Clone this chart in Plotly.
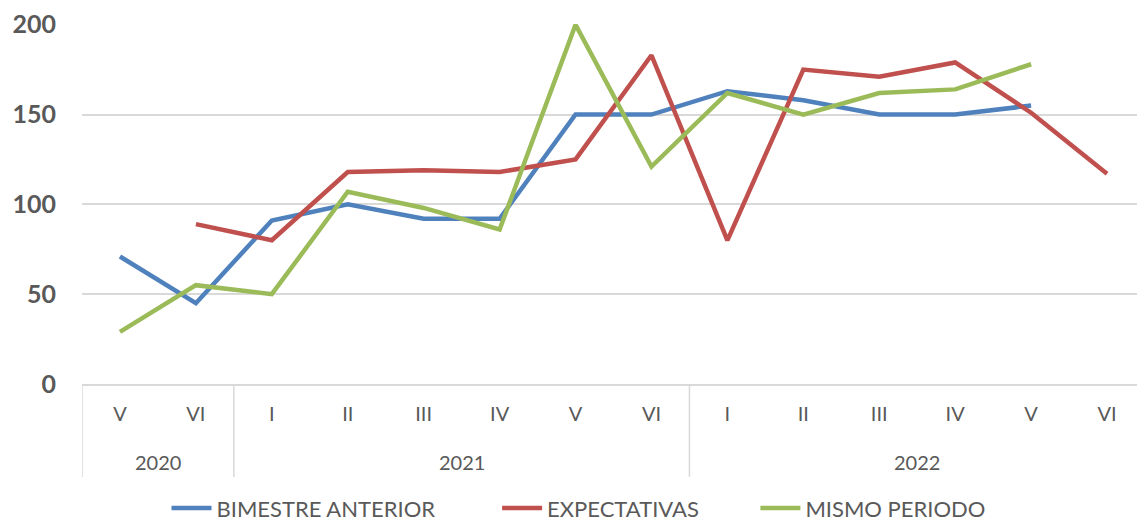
import plotly.graph_objects as go

years = ["2020", "2020"] + ["2021"] * 6 + ["2022"] * 6
bimestres = ["V", "VI", "I", "II", "III", "IV", "V", "VI", "I", "II", "III", "IV", "V", "VI"]

bimestre_anterior = [71, 45, 91, 100, 92, 92, 150, 150, 163, 158, 150, 150, 155, None]
expectativas = [None, 89, 80, 118, 119, 118, 125, 183, 80, 175, 171, 179, 151, 117]
mismo_periodo = [29, 55, 50, 107, 98, 86, 200, 121, 162, 150, 162, 164, 178, None]

series = [
    ("BIMESTRE ANTERIOR", bimestre_anterior, "#4F81BD", "legend", 0.0795),
    ("EXPECTATIVAS", expectativas, "#C0504D", "legend2", 0.3905),
    ("MISMO PERIODO", mismo_periodo, "#9BBB59", "legend3", 0.6335),
]

idx = list(range(len(bimestres)))

fig = go.Figure()
legend_layout = {}
for name, vals, color, leg, lx in series:
    fig.add_trace(go.Scatter(
        x=idx, y=vals, name=name, mode="lines", legend=leg,
        line=dict(color=color, width=4.5), connectgaps=False, cliponaxis=False,
    ))
    legend_layout[leg] = dict(orientation="h", x=lx, xanchor="left", y=-0.345, yanchor="middle",
                              font=dict(size=22, color="#595959"), itemwidth=40,
                              bgcolor="rgba(0,0,0,0)")

# year groups: labels centred under their bimesters, dividers at group boundaries
groups = []
for i, y in enumerate(years):
    if groups and groups[-1][0] == y:
        groups[-1][2] = i
    else:
        groups.append([y, i, i])

div_color = "#D9D9D9"
for yr, a, b in groups:
    fig.add_annotation(x=(a + b) / 2, y=-0.217, xref="x", yref="paper", text=yr,
                       showarrow=False, font=dict(size=20, color="#595959"),
                       xanchor="center", yanchor="middle")
    fig.add_shape(type="line", xref="x", yref="paper", x0=a - 0.5, x1=a - 0.5,
                  y0=0, y1=-0.258, line=dict(color=div_color, width=1.5))

fig.update_layout(
    width=1137, height=515,
    margin=dict(l=74, r=0, t=16, b=139, autoexpand=False),
    paper_bgcolor="white", plot_bgcolor="white",
    font=dict(family="Lato, Calibri, sans-serif", color="#595959", size=18),
    showlegend=True,
    **legend_layout,
)
fig.update_yaxes(range=[0, 200.4], tickvals=[0, 50, 100, 150, 200],
                 showgrid=True, gridcolor="#D9D9D9", gridwidth=1.5,
                 zeroline=False, showline=False, ticks="", automargin=False,
                 tickfont=dict(size=25, color="#595959", family="Lato, sans-serif", weight="bold"),
                 ticklabelstandoff=25)
fig.update_xaxes(range=[-0.5, len(bimestres) - 0.5], tickvals=idx, ticktext=bimestres,
                 showline=True, linecolor="#D9D9D9", linewidth=1.5, automargin=False,
                 showgrid=False, zeroline=False, ticks="",
                 tickfont=dict(size=20, color="#595959"), ticklabelstandoff=11)

fig.write_html("out.html")
